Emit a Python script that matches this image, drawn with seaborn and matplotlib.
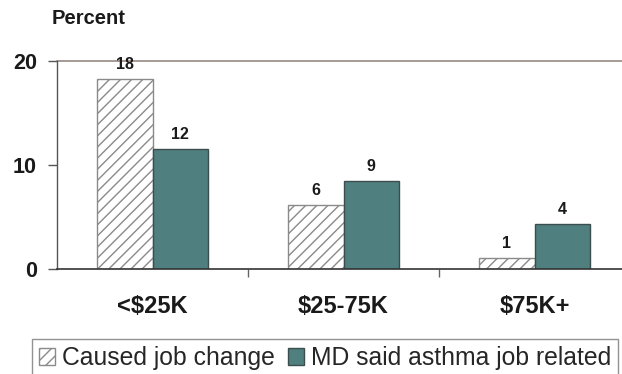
import matplotlib
matplotlib.use("Agg")
import matplotlib.pyplot as plt
from matplotlib.patches import Patch
import seaborn as sns
import pandas as pd

# Income groups and the two measures (percent of respondents)
categories = ["<$25K", "$25-75K", "$75K+"]
series_names = ["Caused job change", "MD said asthma job related"]
job_change = [18.3, 6.2, 1.1]
md_said_related = [11.5, 8.5, 4.3]
y_ticks = [0, 10, 20]

df = pd.DataFrame({
    "income": categories * 2,
    "measure": [series_names[0]] * 3 + [series_names[1]] * 3,
    "percent": job_change + md_said_related,
})

sns.set_theme(style="white")
plt.rcParams["font.family"] = ["Liberation Sans", "DejaVu Sans"]
plt.rcParams["hatch.linewidth"] = 1.0
plt.rcParams["hatch.color"] = "#8a8a8a"

TEAL = "#4f7f7e"
EDGE = "#444444"

fig = plt.figure(figsize=(6.22, 3.74), dpi=100)
ax = fig.add_axes([57 / 622, 105 / 374, 573 / 622, 208 / 374])

sns.barplot(data=df, x="income", y="percent", hue="measure",
            hue_order=series_names, order=categories,
            palette=["white", TEAL], width=0.576, gap=0,
            edgecolor=EDGE, linewidth=1.0, saturation=1,
            legend=False, ax=ax)

# hatched white bars for the first measure
for bar in ax.containers[0]:
    bar.set_hatch("///")
    bar.set_edgecolor("#8a8a8a")
    bar.set_facecolor("white")
for bar in ax.containers[1]:
    bar.set_edgecolor("#3c4d4d")

# value labels above each bar
for cont, vals in zip(ax.containers, [job_change, md_said_related]):
    ax.bar_label(cont, labels=[f"{int(v + 0.5)}" for v in vals],
                 padding=5, fontsize=11.5, fontweight="bold", color="#1a1a1a")

ax.set_xlim(-0.5, 2.5)
ax.set_ylim(0, 20)
ax.set_yticks(y_ticks)
ax.set_yticklabels([str(t) for t in y_ticks], fontsize=15.5, fontweight="bold")
ax.set_xlabel("")
ax.set_ylabel("")

for lab in ax.get_xticklabels():
    lab.set_fontsize(17)
    lab.set_fontweight("bold")

ax.tick_params(axis="y", which="major", direction="out", length=6.5, width=1,
               color="#555555", pad=8, left=True, labelcolor="#1a1a1a")
ax.tick_params(axis="x", which="major", length=0, pad=19, labelcolor="#1a1a1a")
ax.set_xticks([0.5, 1.5, 2.5], minor=True)
ax.tick_params(axis="x", which="minor", direction="out", length=6, width=1,
               color="#666666", bottom=True)

# top gridline
ax.axhline(20, color="#9e928c", lw=1.3, zorder=0, clip_on=False)

for side in ["top", "right"]:
    ax.spines[side].set_visible(False)
ax.spines["left"].set_color("#555555")
ax.spines["left"].set_linewidth(1.0)
ax.spines["bottom"].set_color("#333333")
ax.spines["bottom"].set_linewidth(1.2)

fig.text(52 / 622, 1 - 19 / 374, "Percent", fontsize=14.5, fontweight="bold",
         color="#1a1a1a", va="center", ha="left")

handles = [
    Patch(facecolor="white", edgecolor="#8a8a8a", hatch="///", label=series_names[0]),
    Patch(facecolor=TEAL, edgecolor="#3c4d4d", label=series_names[1]),
]
leg = fig.legend(handles=handles, loc="upper left",
                 bbox_to_anchor=(32 / 622, 1 - 339 / 374), ncol=2,
                 fontsize=17.8, frameon=True, fancybox=False,
                 handlelength=0.65, handleheight=0.65, handletextpad=0.28,
                 columnspacing=0.5, borderpad=0.3, borderaxespad=0)
leg.get_frame().set_edgecolor("#777777")
leg.get_frame().set_linewidth(1.0)

fig.savefig("out.png", dpi=100)
